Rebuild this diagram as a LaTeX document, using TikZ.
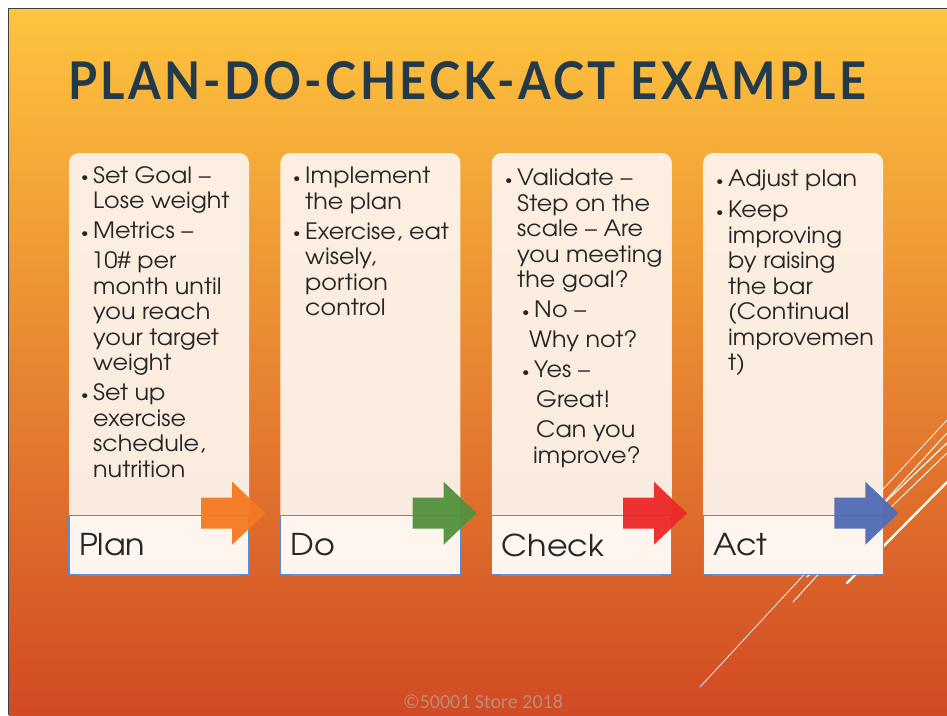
\documentclass[tikz,border=0pt]{standalone}
\usepackage{fontspec}
\usepackage{graphicx}
\setmainfont[FakeStretch=1.06]{TeX Gyre Adventor}
\newfontfamily\titlefont[LetterSpace=7]{Lato}
\newfontfamily\footfont{Carlito}
\usepackage{tikz}
\usetikzlibrary{positioning}
\definecolor{slidetop}{RGB}{254,196,62}
\definecolor{slidemid}{RGB}{236,138,40}
\definecolor{slidebot}{RGB}{209,74,36}
\definecolor{titleblue}{RGB}{34,58,74}
\definecolor{cardfill}{RGB}{253,245,238}
\definecolor{lblline}{RGB}{91,139,208}
\definecolor{planorange}{RGB}{245,121,33}
\definecolor{dogreen}{RGB}{82,145,62}
\definecolor{checkred}{RGB}{237,40,40}
\definecolor{actblue}{RGB}{80,107,181}
\definecolor{footgrey}{RGB}{190,138,122}
\tikzset{
    pdca/.style={
            x=1pt,y=-1pt,
            card/.style={fill=cardfill,fill opacity=0.93,rounded corners=10pt,
                    minimum width=180pt,minimum height=422pt,inner sep=0},
            lbl/.style={draw=lblline,line width=1.2pt,fill=cardfill,minimum width=180pt,
                    minimum height=59pt,text width=160pt,align=left,inner xsep=10pt,
                    font=\fontsize{30}{36}\selectfont,text=black!85},
            body/.style={anchor=north west,inner sep=0,align=left,
                    font=\fontsize{22.5}{25.5}\selectfont,text=black!85},
            deco/.style={white,line cap=round}
        },
    fatarrow/.pic={
            \fill[pic actions] (-64,-15.5) -- (-33,-15.5) -- (-33,-31.5) -- (0,0)
                -- (-33,31.5) -- (-33,15.5) -- (-64,15.5) -- cycle;
        }
    }
\newcommand{\bul}{\makebox[12pt][l]{\raisebox{1.5pt}{\scalebox{0.6}{\textbullet}}}}
\newcommand{\ind}[1][12pt]{\hspace*{#1}}

\begin{document}
\begin{tikzpicture}[pdca]
                \useasboundingbox (0,0) rectangle (947,715);
                \shade[top color=slidetop,middle color=slidemid,bottom color=slidebot] (9,9) rectangle (947,715);
                \draw[line width=1.5pt,black!75] (8.5,715) |- (947,8.5);
                \node[anchor=base west,inner sep=0,text=titleblue] (title) at (68,99)
                    {\resizebox{798pt}{38pt}{\titlefont\bfseries PLAN-DO-CHECK-ACT EXAMPLE}};
                % white strokes in the corner
                \draw[deco,line width=0.7pt] (700,687) -- (947,420);
                \draw[deco,line width=0.9pt] (793,602) -- (947,433);
                \draw[deco,line width=1.2pt] (807,577) -- (947,443);
                \draw[deco,line width=0.9pt] (823,573) -- (947,453);
                \draw[deco,line width=2.4pt] (847,583) -- (947,482);
                % the four cards
                \node[card] (plan-card) at (159,364) {};
                \node[card,right=31pt of plan-card] (do-card) {};
                \node[card,right=31pt of do-card] (check-card) {};
                \node[card,right=31pt of check-card] (act-card) {};
                \node[lbl,anchor=south] (plan-lbl) at (plan-card.south) {Plan};
                \node[lbl,anchor=south] (do-lbl) at (do-card.south) {Do};
                \node[lbl,anchor=south] (check-lbl) at (check-card.south) {Check};
                \node[lbl,anchor=south] (act-lbl) at (act-card.south) {Act};
                \node[body] (plan-text) at (81,166) {\bul Set Goal --\\ \ind Lose weight\\[4.5pt]
                    \bul Metrics --\\[4.5pt] \ind[10pt]10\# per\\ \ind month until\\ \ind you reach\\
                    \ind your target\\ \ind weight\\[4.5pt] \bul Set up\\ \ind exercise\\
                    \ind schedule,\\ \ind nutrition};
                \node[body] (do-text) at (293,167) {\bul Implement\\ \ind the plan\\[4.5pt]
                    \bul Exercise, eat\\ \ind wisely,\\ \ind portion\\ \ind control};
                \node[body] (check-text) at (505,169) {\bul Validate --\\ \ind Step on the\\
                    \ind scale -- Are\\ \ind you meeting\\ \ind the goal?\\[4.5pt]
                    \ind[17pt]\bul No --\\[4.5pt] \ind[24pt]Why not?\\[4.5pt]
                    \ind[17pt]\bul Yes --\\[4.5pt] \ind[31pt]Great!\\[4.5pt]
                    \ind[31pt]Can you\\ \ind[28pt]improve?};
                \node[body] (act-text) at (716,170) {\bul Adjust plan\\[5.5pt] \bul Keep\\
                    \ind improving\\ \ind by raising\\ \ind the bar\\ \ind (Continual\\
                    \ind improvemen\\ \ind t)};
                % arrows between the steps
                \coordinate (plan-tip) at ([shift={(16pt,62pt)}]plan-card.south east);
                \coordinate (do-tip) at ([shift={(16pt,62pt)}]do-card.south east);
                \coordinate (check-tip) at ([shift={(15pt,62pt)}]check-card.south east);
                \coordinate (act-tip) at ([shift={(15pt,62pt)}]act-card.south east);
                \pic[fill=planorange,fill opacity=0.95] at (plan-tip) {fatarrow};
                \pic[fill=dogreen,fill opacity=0.95] at (do-tip) {fatarrow};
                \pic[fill=checkred,fill opacity=0.95] at (check-tip) {fatarrow};
                \pic[fill=actblue,fill opacity=0.95] at (act-tip) {fatarrow};
                \node[font=\footfont\fontsize{20}{22}\selectfont,text=footgrey] (footer) at (483,702) {©50001 Store 2018};
            \end{tikzpicture}
\end{document}
